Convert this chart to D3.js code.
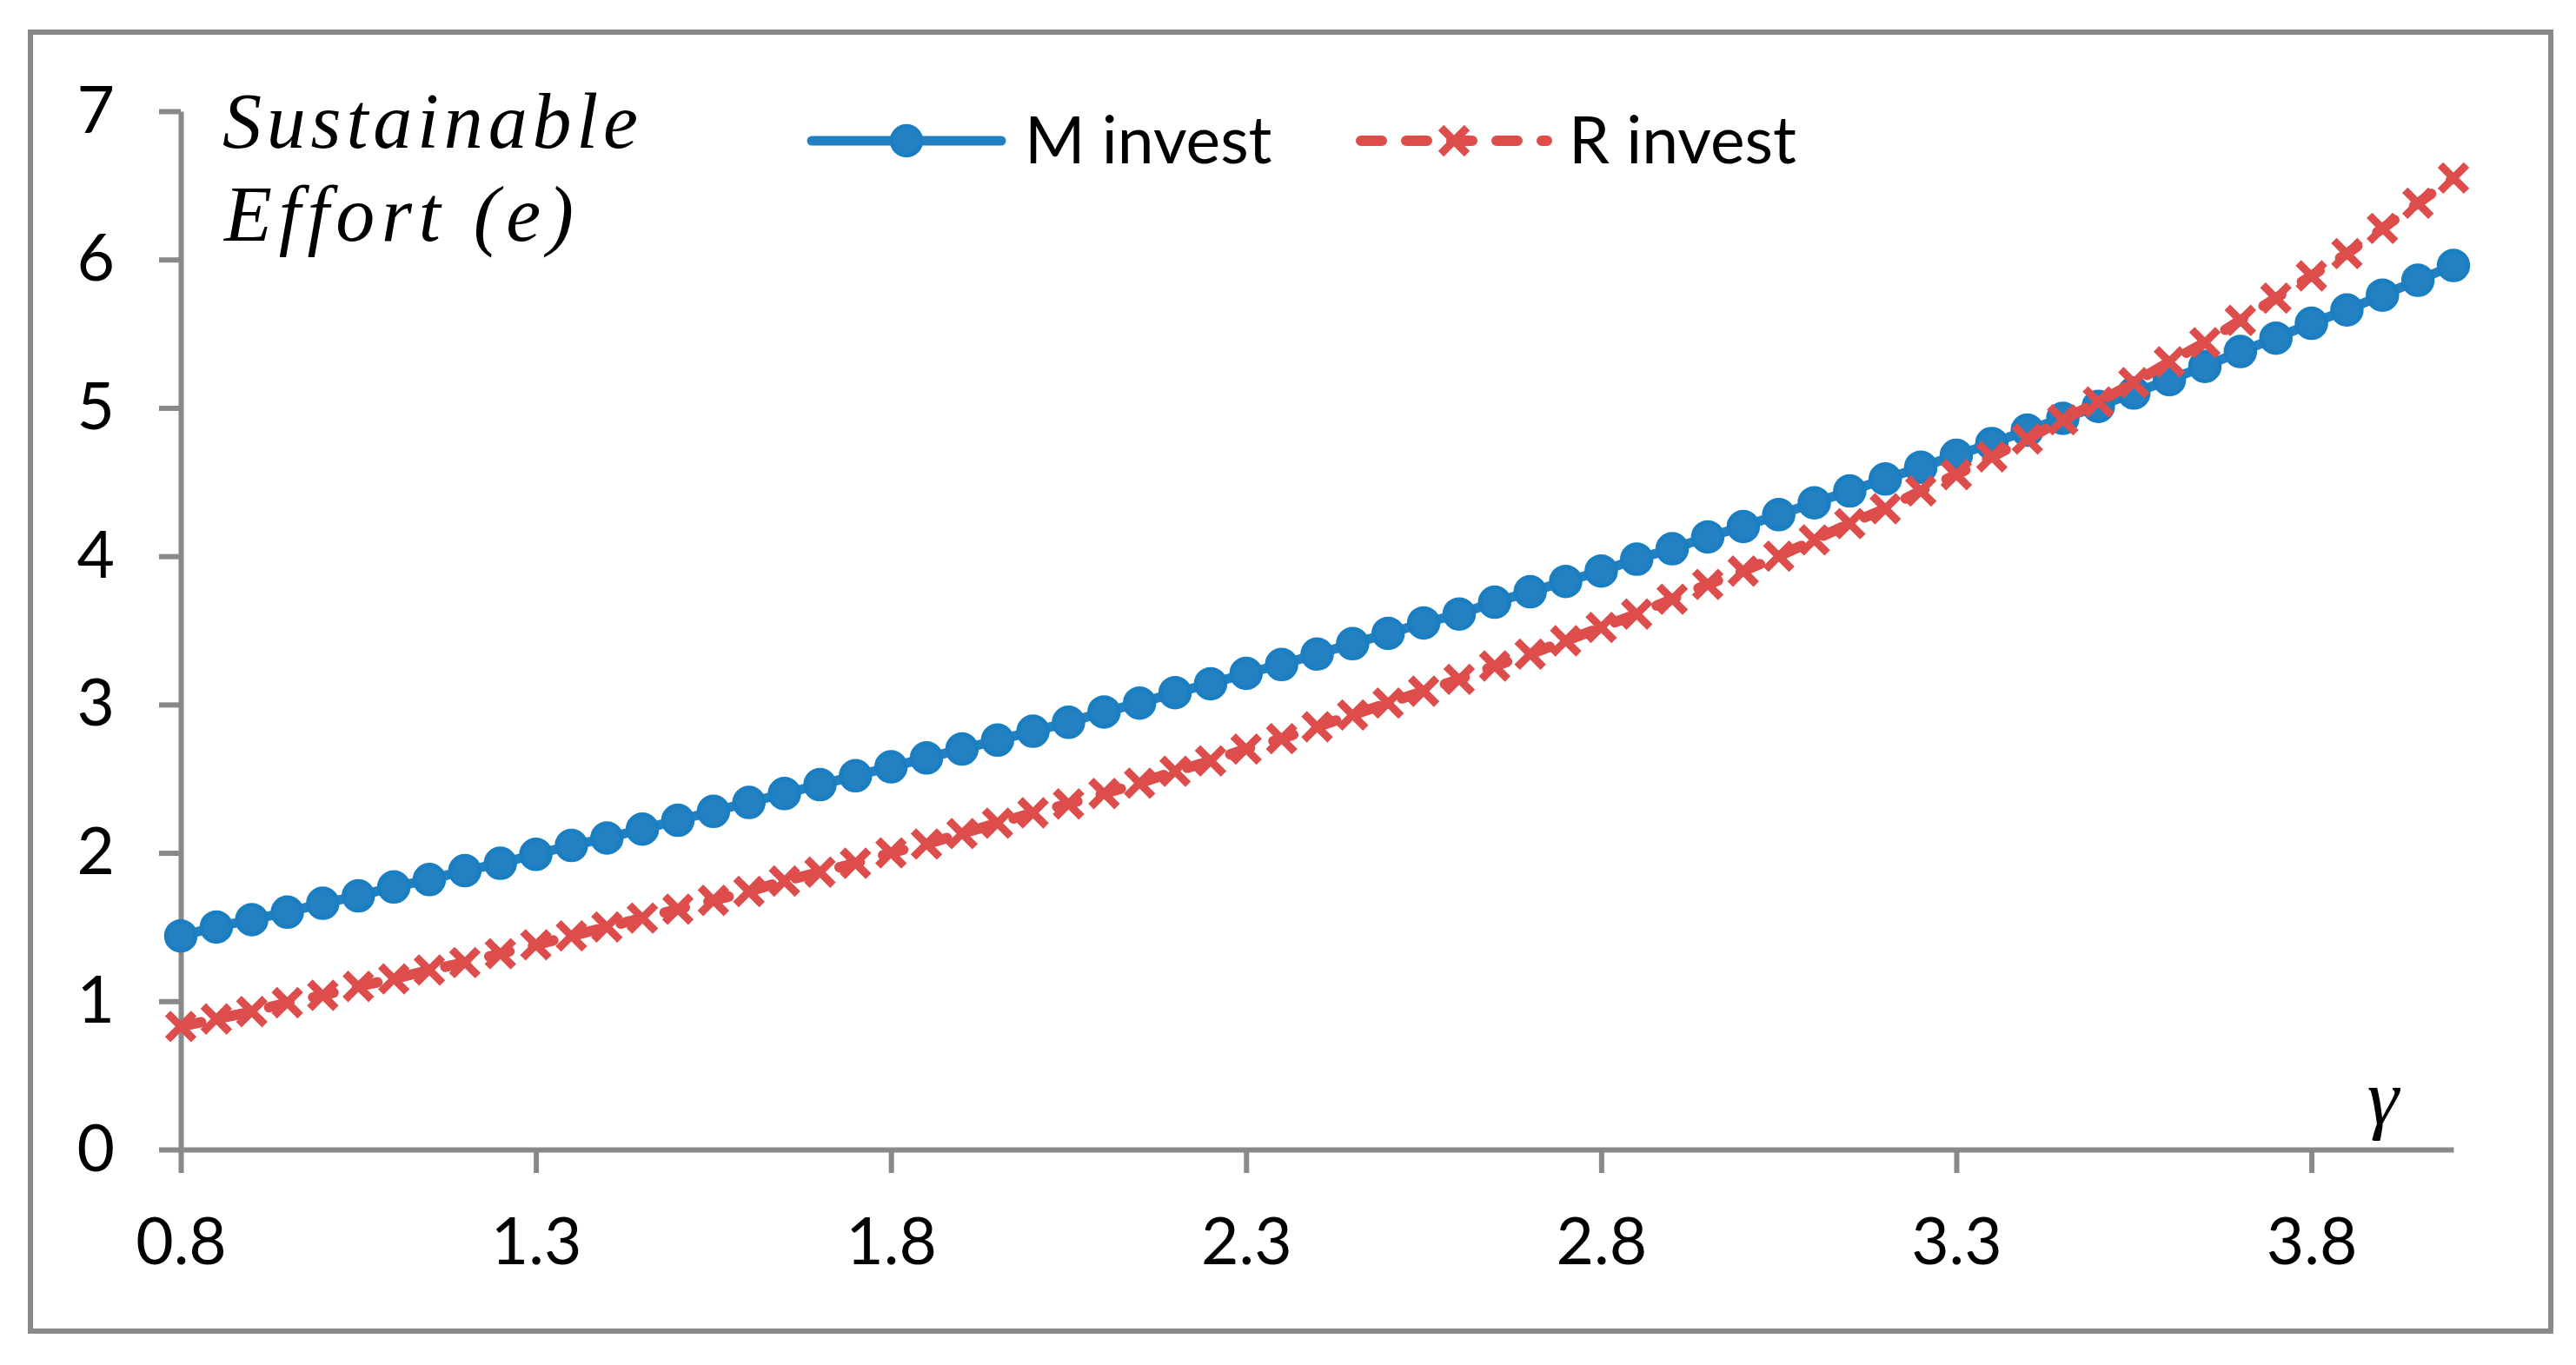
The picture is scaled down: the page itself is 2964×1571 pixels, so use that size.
<!DOCTYPE html>
<html>
<head>
<meta charset="utf-8">
<script src="https://cdn.jsdelivr.net/npm/d3@7"></script>
<style>
  body { margin: 0; background: #fff; }
  svg { display: block; }
</style>
</head>
<body>
<div id="chart"></div>
<script>
// gamma values (category axis, step 0.05)
var gamma = [0.80, 0.85, 0.90, 0.95, 1.00, 1.05, 1.10, 1.15, 1.20, 1.25,
             1.30, 1.35, 1.40, 1.45, 1.50, 1.55, 1.60, 1.65, 1.70, 1.75,
             1.80, 1.85, 1.90, 1.95, 2.00, 2.05, 2.10, 2.15, 2.20, 2.25,
             2.30, 2.35, 2.40, 2.45, 2.50, 2.55, 2.60, 2.65, 2.70, 2.75,
             2.80, 2.85, 2.90, 2.95, 3.00, 3.05, 3.10, 3.15, 3.20, 3.25,
             3.30, 3.35, 3.40, 3.45, 3.50, 3.55, 3.60, 3.65, 3.70, 3.75,
             3.80, 3.85, 3.90, 3.95, 4.00];

var mInvest = [1.44, 1.50, 1.55, 1.60, 1.66, 1.71, 1.77, 1.82, 1.88, 1.93,
               1.99, 2.05, 2.10, 2.16, 2.22, 2.28, 2.34, 2.40, 2.46, 2.52,
               2.58, 2.64, 2.70, 2.76, 2.82, 2.88, 2.95, 3.01, 3.08, 3.14,
               3.21, 3.27, 3.34, 3.41, 3.48, 3.55, 3.61, 3.69, 3.76, 3.83,
               3.90, 3.98, 4.05, 4.13, 4.20, 4.28, 4.36, 4.44, 4.52, 4.60,
               4.68, 4.76, 4.85, 4.93, 5.01, 5.10, 5.19, 5.28, 5.38, 5.47,
               5.57, 5.66, 5.76, 5.86, 5.96];

var rInvest = [0.83, 0.88, 0.93, 0.99, 1.04, 1.10, 1.15, 1.21, 1.26, 1.32,
               1.38, 1.44, 1.50, 1.56, 1.62, 1.68, 1.74, 1.81, 1.87, 1.93,
               2.00, 2.06, 2.13, 2.20, 2.27, 2.33, 2.40, 2.47, 2.55, 2.62,
               2.70, 2.77, 2.85, 2.93, 3.01, 3.09, 3.17, 3.26, 3.34, 3.43,
               3.52, 3.61, 3.71, 3.81, 3.90, 4.00, 4.11, 4.22, 4.32, 4.44,
               4.55, 4.67, 4.79, 4.92, 5.04, 5.17, 5.31, 5.44, 5.59, 5.74,
               5.89, 6.04, 6.21, 6.38, 6.55];

var xTicks = [0.8, 1.3, 1.8, 2.3, 2.8, 3.3, 3.8];
var yTicks = [0, 1, 2, 3, 4, 5, 6, 7];
var seriesNames = ['M invest', 'R invest'];

var W = 2964, H = 1571;
var blue = '#2481c1', blueEdge = '#1a7ec3', red = '#dc4d4b', gray = '#898989';

var svg = d3.select('#chart')
    .append('svg')
    .attr('width', W)
    .attr('height', H);

// outer chart frame
svg.append('rect')
    .attr('x', 35).attr('y', 37)
    .attr('width', 2900).attr('height', 1495)
    .attr('fill', '#fff')
    .attr('stroke', gray)
    .attr('stroke-width', 6);

var x = d3.scaleLinear().domain([0.8, 4.0]).range([208, 2823]);
var y = d3.scaleLinear().domain([0, 7]).range([1323, 128]);

// axes
var xAxis = svg.append('g')
    .attr('transform', 'translate(0,' + y(0) + ')')
    .call(d3.axisBottom(x).tickValues(xTicks).tickFormat(d3.format('.1f'))
        .tickSize(27).tickSizeOuter(0).tickPadding(52));

var yAxis = svg.append('g')
    .attr('transform', 'translate(' + x(0.8) + ',0)')
    .call(d3.axisLeft(y).tickValues(yTicks).tickFormat(d3.format('d'))
        .tickSize(25).tickSizeOuter(0).tickPadding(51));

[xAxis, yAxis].forEach(function(g) {
    g.select('.domain').attr('stroke', gray).attr('stroke-width', 6);
    g.selectAll('.tick line').attr('stroke', gray).attr('stroke-width', 6);
    g.selectAll('.tick text')
        .attr('fill', '#000')
        .style('font-family', 'Lato, "Open Sans", sans-serif')
        .style('font-size', '75px');
});

// M invest: solid line with circles
var line = d3.line()
    .x(function(d, i) { return x(gamma[i]); })
    .y(function(d) { return y(d); });

svg.append('path')
    .datum(mInvest)
    .attr('d', line)
    .attr('fill', 'none')
    .attr('stroke', blue)
    .attr('stroke-width', 11)
    .attr('stroke-linejoin', 'round');

svg.selectAll('circle.m')
    .data(mInvest)
    .enter()
    .append('circle')
    .attr('class', 'm')
    .attr('cx', function(d, i) { return x(gamma[i]); })
    .attr('cy', function(d) { return y(d); })
    .attr('r', 17)
    .attr('fill', blue)
    .attr('stroke', blueEdge)
    .attr('stroke-width', 4.5);

// R invest: dashed line with crosses
svg.append('path')
    .datum(rInvest)
    .attr('d', line)
    .attr('fill', 'none')
    .attr('stroke', red)
    .attr('stroke-width', 12)
    .attr('stroke-linecap', 'round')
    .attr('stroke-dasharray', '24,28');

var cross = 'M-15,-15L15,15M15,-15L-15,15';

svg.selectAll('path.r')
    .data(rInvest)
    .enter()
    .append('path')
    .attr('class', 'r')
    .attr('d', cross)
    .attr('transform', function(d, i) {
        return 'translate(' + x(gamma[i]) + ',' + y(d) + ')';
    })
    .attr('fill', 'none')
    .attr('stroke', red)
    .attr('stroke-width', 9);

// legend
var legY = 162;
svg.append('line')
    .attr('x1', 934).attr('x2', 1152).attr('y1', legY).attr('y2', legY)
    .attr('stroke', blue).attr('stroke-width', 11).attr('stroke-linecap', 'round');
svg.append('circle')
    .attr('cx', 1043).attr('cy', legY).attr('r', 17)
    .attr('fill', blue).attr('stroke', blueEdge).attr('stroke-width', 4.5);
svg.append('text')
    .attr('x', 1179).attr('y', 188)
    .style('font-family', 'Lato, "Open Sans", sans-serif')
    .style('font-size', '75px')
    .text(seriesNames[0]);

svg.append('line')
    .attr('x1', 1566).attr('x2', 1780).attr('y1', legY).attr('y2', legY)
    .attr('stroke', red).attr('stroke-width', 12).attr('stroke-linecap', 'round')
    .attr('stroke-dasharray', '24,28');
svg.append('path')
    .attr('d', cross)
    .attr('transform', 'translate(1673,' + legY + ')')
    .attr('fill', 'none').attr('stroke', red).attr('stroke-width', 9);
svg.append('text')
    .attr('x', 1805).attr('y', 188)
    .style('font-family', 'Lato, "Open Sans", sans-serif')
    .style('font-size', '75px')
    .text(seriesNames[1]);

// axis titles (math italic)
var mathFont = '"Liberation Serif", "DejaVu Serif", serif';
svg.append('text')
    .attr('x', 256).attr('y', 170)
    .attr('textLength', 478).attr('lengthAdjust', 'spacing')
    .style('font-family', mathFont).style('font-style', 'italic')
    .style('font-size', '90px')
    .text('Sustainable');
svg.append('text')
    .attr('x', 258).attr('y', 277)
    .attr('textLength', 402).attr('lengthAdjust', 'spacing')
    .style('font-family', mathFont).style('font-style', 'italic')
    .style('font-size', '90px')
    .text('Effort (e)');
svg.append('text')
    .attr('x', 2742).attr('y', 1294)
    .attr('text-anchor', 'middle')
    .style('font-family', mathFont).style('font-style', 'italic')
    .style('font-size', '92px')
    .text('γ');
</script>
</body>
</html>
